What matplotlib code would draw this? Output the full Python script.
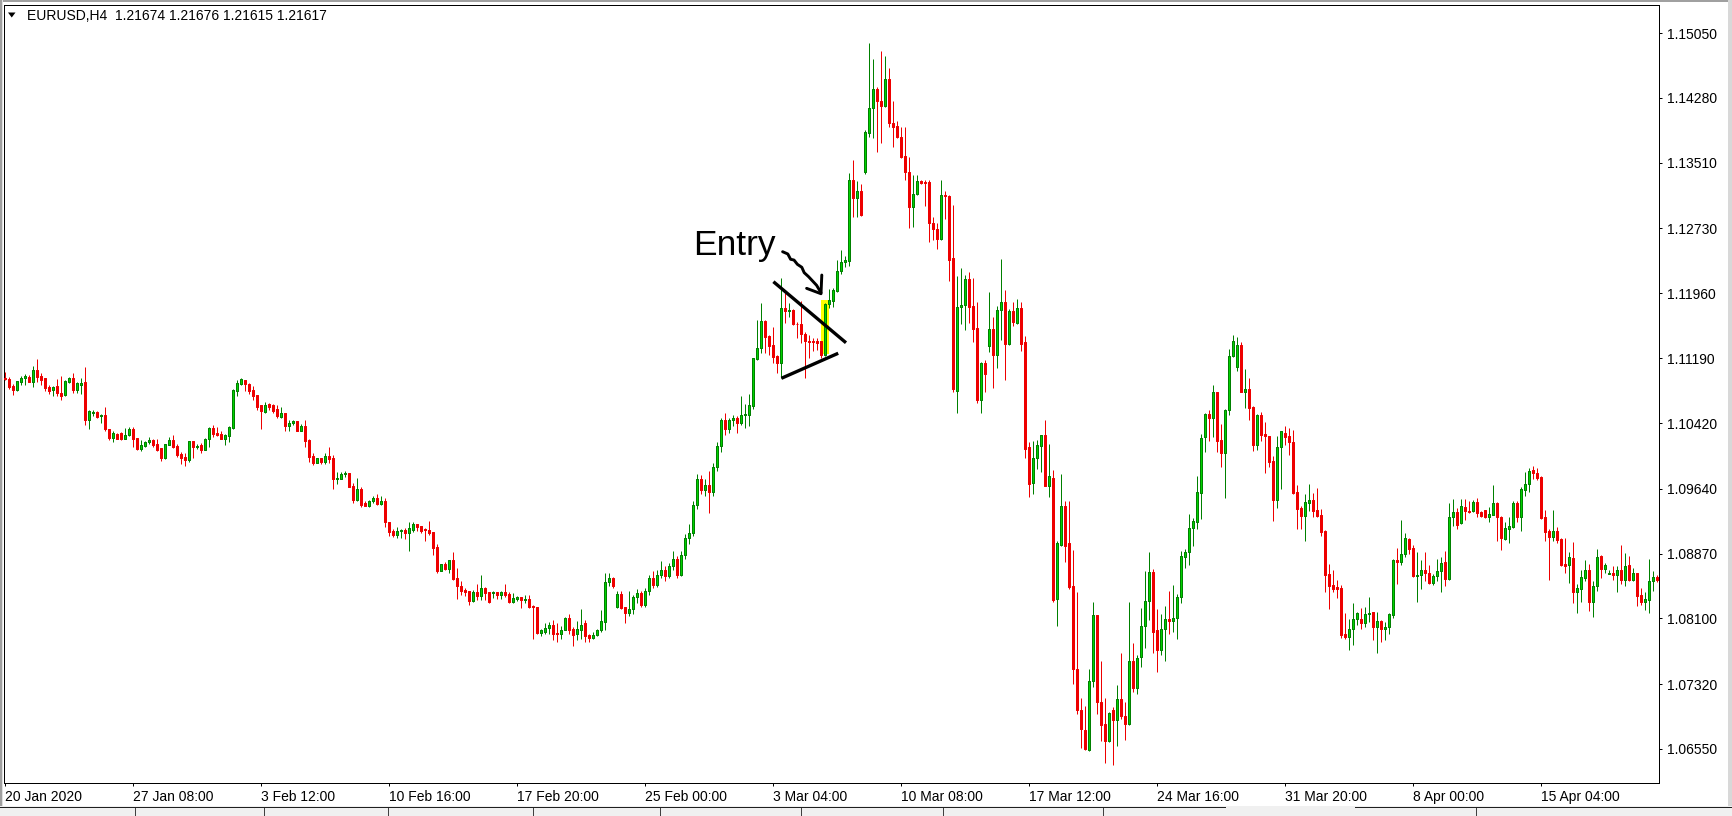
import matplotlib
matplotlib.use("Agg")
import matplotlib.pyplot as plt
from matplotlib.patches import Rectangle, Polygon
from matplotlib.collections import PatchCollection, LineCollection

# ---------------- data (EURUSD H4, one entry per bar) ----------------
opens = [
1.1096,1.1094,1.1086,1.1081,1.1091,1.1096,1.1097,1.1091,1.1105,1.1098,
1.1095,1.1085,1.1081,1.1086,1.1078,1.1075,1.1091,1.1095,1.1081,1.1087,
1.1091,1.1045,1.1054,1.1055,1.1050,1.1052,1.1035,1.1024,1.1029,1.1030,
1.1023,1.1028,1.1035,1.1024,1.1011,1.1015,1.1019,1.1022,1.1017,1.1012,
1.1000,1.1016,1.1022,1.1015,1.1005,1.1002,1.0998,1.1021,1.1013,1.1016,
1.1010,1.1023,1.1036,1.1030,1.1029,1.1023,1.1027,1.1036,1.1080,1.1088,
1.1093,1.1088,1.1081,1.1075,1.1063,1.1055,1.1064,1.1063,1.1059,1.1049,
1.1054,1.1038,1.1042,1.1044,1.1033,1.1038,1.1022,1.1003,1.0995,1.1000,
1.0996,1.1003,1.1000,1.0976,1.0976,1.0981,1.0983,1.0967,1.0951,1.0964,
1.0947,1.0943,1.0949,1.0953,1.0946,1.0949,1.0925,1.0914,1.0909,1.0914,
1.0915,1.0912,1.0915,1.0922,1.0920,1.0916,1.0915,1.0913,1.0895,1.0866,
1.0875,1.0869,1.0879,1.0858,1.0849,1.0844,1.0842,1.0831,1.0841,1.0837,
1.0846,1.0841,1.0840,1.0841,1.0838,1.0841,1.0839,1.0829,1.0833,1.0836,
1.0832,1.0833,1.0825,1.0823,1.0793,1.0794,1.0799,1.0802,1.0793,1.0791,
1.0796,1.0811,1.0797,1.0791,1.0796,1.0804,1.0790,1.0787,1.0790,1.0796,
1.0806,1.0853,1.0858,1.0823,1.0839,1.0823,1.0817,1.0821,1.0835,1.0840,
1.0826,1.0842,1.0858,1.0850,1.0862,1.0868,1.0860,1.0872,1.0880,1.0862,
1.0885,1.0905,1.0912,1.0945,1.0975,1.0962,1.0968,1.0960,1.0990,1.1015,
1.1045,1.1035,1.1045,1.1048,1.1042,1.1051,1.1052,1.1062,1.1118,1.1131,
1.1163,1.1145,1.1135,1.1121,1.1113,1.1179,1.1175,1.1176,1.1160,1.1160,
1.1148,1.1139,1.1139,1.1139,1.1139,1.1123,1.1183,1.1187,1.1199,1.1222,
1.1233,1.1234,1.1331,1.1309,1.1317,1.1340,1.1386,1.1416,1.1438,1.1424,
1.1418,1.1450,1.1398,1.1395,1.1381,1.1359,1.1340,1.1299,1.1314,1.1329,
1.1328,1.1328,1.1279,1.1272,1.1260,1.1313,1.1312,1.1238,1.1080,1.1180,
1.1182,1.1213,1.1181,1.1155,1.1069,1.1113,1.1133,1.1154,1.1123,1.1176,
1.1186,1.1136,1.1175,1.1161,1.1179,1.1138,1.1013,1.0971,1.1001,1.1015,
1.1028,1.0967,1.0977,1.0833,1.0897,1.0944,1.0899,1.0849,1.0750,1.0701,
1.0678,1.0654,1.0736,1.0814,1.0711,1.0685,1.0665,1.0701,1.0689,1.0714,
1.0694,1.0685,1.0760,1.0727,1.0764,1.0801,1.0831,1.0865,1.0796,1.0772,
1.0798,1.0809,1.0807,1.0811,1.0835,1.0883,1.0889,1.0917,1.0925,1.0959,
1.1025,1.1053,1.1048,1.1079,1.1022,1.1006,1.1058,1.1122,1.1108,1.1135,
1.1079,1.1082,1.1061,1.1016,1.1052,1.1029,1.1027,1.0997,1.0951,1.1014,
1.1030,1.1027,1.1020,1.0960,1.0941,1.0932,1.0947,1.0951,1.0939,1.0933,
1.0914,1.0863,1.0850,1.0847,1.0846,1.0791,1.0788,1.0798,1.0809,1.0809,
1.0805,1.0815,1.0818,1.0800,1.0807,1.0798,1.0800,1.0814,1.0879,1.0877,
1.0886,1.0904,1.0894,1.0860,1.0861,1.0868,1.0864,1.0852,1.0860,1.0866,
1.0877,1.0857,1.0930,1.0936,1.0923,1.0942,1.0937,1.0937,1.0948,1.0936,
1.0939,1.0931,1.0933,1.0947,1.0930,1.0904,1.0916,1.0919,1.0947,1.0931,
1.0962,1.0970,1.0986,1.0983,1.0978,1.0930,1.0914,1.0907,1.0914,1.0904,
1.0875,1.0873,1.0882,1.0841,1.0845,1.0858,1.0867,1.0829,1.0848,1.0884,
1.0869,1.0863,1.0864,1.0861,1.0868,1.0856,1.0873,1.0856,1.0864,1.0838,
1.0830,1.0832,1.0854,1.0859]

highs = [
1.1102,1.1097,1.1088,1.1092,1.1098,1.1100,1.1099,1.1110,1.1118,1.1101,
1.1095,1.1087,1.1086,1.1094,1.1098,1.1093,1.1097,1.1101,1.1091,1.1095,
1.1109,1.1058,1.1058,1.1056,1.1053,1.1061,1.1035,1.1033,1.1030,1.1031,
1.1036,1.1037,1.1037,1.1024,1.1022,1.1021,1.1025,1.1023,1.1023,1.1012,
1.1017,1.1025,1.1028,1.1017,1.1008,1.1006,1.1021,1.1021,1.1017,1.1018,
1.1024,1.1037,1.1040,1.1037,1.1033,1.1029,1.1039,1.1082,1.1093,1.1096,
1.1093,1.1089,1.1086,1.1075,1.1063,1.1067,1.1066,1.1064,1.1063,1.1061,
1.1054,1.1046,1.1046,1.1044,1.1041,1.1046,1.1023,1.1006,1.1000,1.1000,
1.1006,1.1014,1.1004,1.0984,1.0984,1.0985,1.0983,1.0971,1.0977,1.0966,
1.0949,1.0951,1.0955,1.0958,1.0955,1.0953,1.0925,1.0916,1.0918,1.0916,
1.0917,1.0925,1.0925,1.0922,1.0920,1.0917,1.0926,1.0913,1.0898,1.0875,
1.0877,1.0879,1.0889,1.0870,1.0854,1.0846,1.0842,1.0844,1.0851,1.0862,
1.0847,1.0841,1.0843,1.0841,1.0843,1.0851,1.0841,1.0840,1.0837,1.0836,
1.0838,1.0838,1.0826,1.0824,1.0797,1.0804,1.0806,1.0808,1.0804,1.0801,
1.0812,1.0815,1.0800,1.0807,1.0821,1.0808,1.0791,1.0794,1.0798,1.0820,
1.0864,1.0864,1.0859,1.0843,1.0843,1.0824,1.0843,1.0838,1.0845,1.0842,
1.0846,1.0862,1.0866,1.0868,1.0878,1.0872,1.0876,1.0890,1.0884,1.0890,
1.0910,1.0922,1.0950,1.0982,1.0980,1.0975,1.0985,1.0995,1.1020,1.1048,
1.1054,1.1048,1.1052,1.1050,1.1074,1.1064,1.1077,1.1119,1.1164,1.1184,
1.1164,1.1146,1.1156,1.1123,1.1214,1.1196,1.1184,1.1177,1.1162,1.1187,
1.1150,1.1146,1.1143,1.1143,1.1139,1.1184,1.1201,1.1202,1.1236,1.1247,
1.1240,1.1339,1.1354,1.1329,1.1326,1.1390,1.1493,1.1474,1.1441,1.1484,
1.1478,1.1464,1.1424,1.1401,1.1394,1.1394,1.1358,1.1336,1.1337,1.1331,
1.1331,1.1331,1.1287,1.1279,1.1331,1.1318,1.1313,1.1301,1.1217,1.1226,
1.1218,1.1221,1.1214,1.1186,1.1115,1.1117,1.1197,1.1168,1.1181,1.1237,
1.1200,1.1177,1.1186,1.1189,1.1186,1.1145,1.1019,1.1021,1.1022,1.1028,
1.1046,1.1017,1.0986,1.0902,1.0982,1.0949,1.0949,1.0891,1.0841,1.0716,
1.0706,1.0750,1.0830,1.0814,1.0760,1.0715,1.0699,1.0705,1.0731,1.0769,
1.0711,1.0829,1.0781,1.0766,1.0822,1.0866,1.0889,1.0869,1.0821,1.0815,
1.0825,1.0842,1.0850,1.0839,1.0890,1.0893,1.0934,1.0929,1.0979,1.1029,
1.1054,1.1058,1.1087,1.1079,1.1041,1.1059,1.1130,1.1146,1.1144,1.1138,
1.1106,1.1095,1.1062,1.1053,1.1055,1.1043,1.1027,1.1003,1.1027,1.1032,
1.1039,1.1036,1.1034,1.0968,1.0943,1.0958,1.0970,1.0959,1.0965,1.0940,
1.0915,1.0875,1.0868,1.0856,1.0850,1.0816,1.0809,1.0828,1.0818,1.0822,
1.0824,1.0836,1.0818,1.0818,1.0808,1.0806,1.0816,1.0880,1.0894,1.0927,
1.0911,1.0905,1.0897,1.0889,1.0879,1.0889,1.0873,1.0863,1.0881,1.0883,
1.0890,1.0947,1.0952,1.0941,1.0952,1.0952,1.0949,1.0951,1.0953,1.0937,
1.0939,1.0942,1.0968,1.0948,1.0932,1.0924,1.0930,1.0950,1.0949,1.0966,
1.0984,1.0988,1.0991,1.0988,1.0979,1.0939,1.0916,1.0939,1.0918,1.0906,
1.0906,1.0889,1.0901,1.0851,1.0867,1.0879,1.0875,1.0854,1.0892,1.0885,
1.0876,1.0868,1.0872,1.0872,1.0897,1.0888,1.0884,1.0870,1.0864,1.0846,
1.0841,1.0880,1.0866,1.0862]

lows = [
1.1093,1.1082,1.1075,1.1080,1.1087,1.1087,1.1091,1.1085,1.1091,1.1087,
1.1080,1.1077,1.1074,1.1074,1.1069,1.1074,1.1090,1.1078,1.1078,1.1077,
1.1040,1.1035,1.1050,1.1048,1.1042,1.1032,1.1022,1.1019,1.1023,1.1022,
1.1023,1.1026,1.1013,1.1010,1.1009,1.1014,1.1017,1.1014,1.1009,1.0997,
1.0999,1.1016,1.1012,1.1002,1.0993,1.0991,1.0996,1.1001,1.1011,1.1006,
1.1010,1.1014,1.1025,1.1027,1.1023,1.1016,1.1020,1.1035,1.1074,1.1087,
1.1080,1.1077,1.1069,1.1058,1.1035,1.1054,1.1058,1.1054,1.1048,1.1048,
1.1033,1.1032,1.1040,1.1033,1.1033,1.1014,1.0996,1.0992,1.0994,1.0993,
1.0993,1.0994,1.0964,1.0970,1.0975,1.0978,1.0966,1.0947,1.0949,1.0942,
1.0943,1.0942,1.0947,1.0945,1.0945,1.0919,1.0908,1.0907,1.0906,1.0905,
1.0904,1.0890,1.0913,1.0914,1.0912,1.0902,1.0909,1.0885,1.0864,1.0866,
1.0868,1.0864,1.0856,1.0833,1.0838,1.0837,1.0826,1.0830,1.0832,1.0832,
1.0832,1.0828,1.0834,1.0833,1.0833,1.0836,1.0828,1.0828,1.0831,1.0822,
1.0828,1.0822,1.0786,1.0792,1.0789,1.0792,1.0791,1.0784,1.0782,1.0786,
1.0796,1.0792,1.0777,1.0784,1.0786,1.0782,1.0782,1.0786,1.0789,1.0794,
1.0796,1.0848,1.0846,1.0822,1.0821,1.0805,1.0813,1.0815,1.0828,1.0823,
1.0824,1.0838,1.0846,1.0847,1.0858,1.0855,1.0858,1.0868,1.0858,1.0860,
1.0880,1.0898,1.0908,1.0940,1.0958,1.0955,1.0935,1.0955,1.0985,1.1008,
1.1028,1.1030,1.1038,1.1030,1.1040,1.1036,1.1038,1.1059,1.1117,1.1125,
1.1125,1.1123,1.1113,1.1101,1.1095,1.1161,1.1168,1.1158,1.1143,1.1137,
1.1095,1.1119,1.1127,1.1129,1.1119,1.1121,1.1178,1.1180,1.1198,1.1219,
1.1227,1.1228,1.1287,1.1287,1.1288,1.1338,1.1382,1.1380,1.1364,1.1374,
1.1417,1.1394,1.1370,1.1380,1.1357,1.1331,1.1274,1.1275,1.1313,1.1326,
1.1300,1.1257,1.1259,1.1249,1.1259,1.1284,1.1211,1.1079,1.1054,1.1159,
1.1152,1.1161,1.1138,1.1066,1.1054,1.1079,1.1126,1.1084,1.1107,1.1141,
1.1093,1.1135,1.1157,1.1159,1.1128,1.1000,1.0954,1.0958,1.0987,1.0984,
1.0967,1.0954,1.0830,1.0801,1.0896,1.0877,1.0845,1.0732,1.0696,1.0656,
1.0654,1.0653,1.0728,1.0697,1.0664,1.0638,1.0663,1.0636,1.0658,1.0691,
1.0666,1.0684,1.0723,1.0720,1.0752,1.0775,1.0808,1.0769,1.0746,1.0767,
1.0760,1.0792,1.0794,1.0785,1.0828,1.0870,1.0874,1.0896,1.0916,1.0928,
1.1007,1.1021,1.1025,1.1008,1.0990,1.0953,1.1052,1.1120,1.1104,1.1079,
1.1060,1.1045,1.1009,1.1010,1.1021,1.0983,1.0990,1.0926,1.0941,1.0964,
1.1016,1.1004,1.0958,1.0916,1.0916,1.0902,1.0938,1.0930,1.0931,1.0908,
1.0841,1.0821,1.0841,1.0834,1.0787,1.0785,1.0773,1.0778,1.0802,1.0798,
1.0800,1.0806,1.0784,1.0769,1.0782,1.0784,1.0792,1.0811,1.0851,1.0873,
1.0883,1.0887,1.0859,1.0830,1.0845,1.0854,1.0851,1.0850,1.0854,1.0841,
1.0849,1.0856,1.0920,1.0916,1.0922,1.0927,1.0935,1.0936,1.0931,1.0931,
1.0929,1.0925,1.0933,1.0902,1.0891,1.0903,1.0899,1.0917,1.0924,1.0914,
1.0955,1.0960,1.0975,1.0974,1.0928,1.0902,1.0856,1.0902,1.0900,1.0872,
1.0864,1.0852,1.0828,1.0816,1.0829,1.0854,1.0819,1.0812,1.0843,1.0858,
1.0864,1.0863,1.0856,1.0841,1.0851,1.0849,1.0855,1.0855,1.0825,1.0826,
1.0820,1.0817,1.0842,1.0853]

closes = [
1.1094,1.1085,1.1081,1.1092,1.1095,1.1098,1.1091,1.1105,1.1097,1.1093,
1.1084,1.1080,1.1085,1.1078,1.1074,1.1092,1.1095,1.1081,1.1090,1.1090,
1.1046,1.1056,1.1055,1.1049,1.1051,1.1035,1.1024,1.1030,1.1023,1.1023,
1.1028,1.1035,1.1023,1.1011,1.1016,1.1020,1.1022,1.1016,1.1010,1.1000,
1.1017,1.1022,1.1013,1.1004,1.1001,1.0998,1.1021,1.1013,1.1015,1.1010,
1.1023,1.1036,1.1029,1.1028,1.1023,1.1028,1.1037,1.1081,1.1090,1.1094,
1.1088,1.1080,1.1074,1.1061,1.1056,1.1063,1.1061,1.1056,1.1050,1.1054,
1.1038,1.1042,1.1044,1.1033,1.1038,1.1021,1.1002,1.0995,1.1000,1.0996,
1.1003,1.0999,1.0976,1.0977,1.0981,1.0983,1.0966,1.0951,1.0964,1.0945,
1.0943,1.0949,1.0953,1.0946,1.0950,1.0924,1.0913,1.0909,1.0914,1.0915,
1.0912,1.0917,1.0922,1.0919,1.0914,1.0915,1.0912,1.0894,1.0866,1.0875,
1.0869,1.0879,1.0857,1.0848,1.0843,1.0841,1.0831,1.0841,1.0837,1.0846,
1.0840,1.0830,1.0841,1.0838,1.0841,1.0838,1.0830,1.0834,1.0836,1.0832,
1.0833,1.0824,1.0823,1.0793,1.0796,1.0799,1.0802,1.0791,1.0791,1.0796,
1.0811,1.0796,1.0790,1.0797,1.0802,1.0789,1.0787,1.0790,1.0796,1.0807,
1.0853,1.0858,1.0848,1.0839,1.0822,1.0817,1.0821,1.0835,1.0840,1.0826,
1.0842,1.0858,1.0850,1.0862,1.0868,1.0860,1.0872,1.0880,1.0862,1.0885,
1.0905,1.0912,1.0945,1.0975,1.0962,1.0968,1.0960,1.0990,1.1015,1.1045,
1.1035,1.1045,1.1048,1.1042,1.1052,1.1053,1.1063,1.1119,1.1131,1.1163,
1.1144,1.1133,1.1120,1.1113,1.1178,1.1175,1.1176,1.1160,1.1159,1.1148,
1.1139,1.1138,1.1138,1.1137,1.1123,1.1183,1.1188,1.1200,1.1222,1.1233,
1.1235,1.1331,1.1309,1.1317,1.1289,1.1387,1.1416,1.1438,1.1424,1.1418,
1.1451,1.1398,1.1394,1.1381,1.1358,1.1340,1.1299,1.1314,1.1329,1.1327,
1.1327,1.1279,1.1272,1.1260,1.1313,1.1311,1.1236,1.1082,1.1180,1.1182,
1.1213,1.1180,1.1154,1.1069,1.1113,1.1100,1.1154,1.1123,1.1176,1.1186,
1.1136,1.1175,1.1162,1.1179,1.1136,1.1011,1.0970,1.1001,1.1016,1.1028,
1.0967,1.0979,1.0832,1.0900,1.0943,1.0896,1.0847,1.0750,1.0701,1.0679,
1.0655,1.0736,1.0814,1.0711,1.0684,1.0665,1.0698,1.0689,1.0714,1.0694,
1.0685,1.0760,1.0727,1.0763,1.0801,1.0831,1.0865,1.0794,1.0772,1.0798,
1.0809,1.0807,1.0811,1.0836,1.0884,1.0889,1.0917,1.0926,1.0960,1.1024,
1.1053,1.1048,1.1079,1.1021,1.1006,1.1058,1.1122,1.1139,1.1135,1.1079,
1.1082,1.1060,1.1016,1.1052,1.1028,1.1026,1.0996,1.0951,1.1013,1.1032,
1.1025,1.1019,1.0959,1.0940,1.0932,1.0948,1.0951,1.0938,1.0932,1.0913,
1.0862,1.0849,1.0845,1.0845,1.0790,1.0788,1.0798,1.0809,1.0816,1.0805,
1.0815,1.0817,1.0800,1.0807,1.0798,1.0800,1.0815,1.0879,1.0877,1.0886,
1.0905,1.0893,1.0860,1.0862,1.0868,1.0864,1.0852,1.0860,1.0866,1.0876,
1.0857,1.0930,1.0936,1.0921,1.0943,1.0937,1.0936,1.0948,1.0935,1.0932,
1.0930,1.0934,1.0947,1.0930,1.0905,1.0917,1.0920,1.0947,1.0931,1.0964,
1.0970,1.0985,1.0983,1.0977,1.0929,1.0913,1.0907,1.0914,1.0903,1.0873,
1.0872,1.0883,1.0841,1.0846,1.0859,1.0867,1.0829,1.0848,1.0883,1.0869,
1.0873,1.0864,1.0861,1.0868,1.0856,1.0872,1.0856,1.0864,1.0837,1.0830,
1.0833,1.0854,1.0859,1.0856]

price_ticks = [1.15050, 1.14280, 1.13510, 1.12730, 1.11960, 1.11190,
               1.10420, 1.09640, 1.08870, 1.08100, 1.07320, 1.06550]
date_labels = ["20 Jan 2020", "27 Jan 08:00", "3 Feb 12:00", "10 Feb 16:00",
               "17 Feb 20:00", "25 Feb 00:00", "3 Mar 04:00", "10 Mar 08:00",
               "17 Mar 12:00", "24 Mar 16:00", "31 Mar 20:00", "8 Apr 00:00",
               "15 Apr 04:00"]
bars_per_label = 32
header_text = "EURUSD,H4  1.21674 1.21676 1.21615 1.21617"

# annotations (bar index, price)
entry_box = (204.0, 206.1, 1.1124, 1.1188)
upper_trend = ([192.1, 210.25], [1.12098, 1.11373])
lower_trend = ([194.1, 208.3], [1.10951, 1.11248])
entry_label = (172.0, 1.12415)
arrow_x = [194.4, 195.7, 196.4, 197.25, 198.1, 199.2, 199.8, 200.9, 201.9, 202.9, 204.0]
arrow_y = [1.12454, 1.12427, 1.12364, 1.12355, 1.12304, 1.12269, 1.12205, 1.12157, 1.12106, 1.12055, 1.11967]
arrow_head_x = [200.4, 204.0, 204.2]
arrow_head_y = [1.12019, 1.11955, 1.12177]

# ---------------- figure ----------------
W, H = 1733, 816
fig = plt.figure(figsize=(W / 100, H / 100), dpi=100)
fig.patch.set_facecolor("white")

L_, R_, T_, B_ = 4, 1659, 5, 783
ax = fig.add_axes([L_ / W, 1 - B_ / H, (R_ - L_) / W, (B_ - T_) / H])
ax.set_facecolor("white")

n = len(closes)
ax.set_xlim(-0.25, 413.5)
ax.set_ylim(1.06146, 1.15383)

UP_FILL, UP_EDGE = "#00D200", "#008000"
DN_FILL, DN_EDGE = "#EE0000", "#EE0000"

px = 0.72  # one pixel in points
bodies, fills, edges, wicks, wcols = [], [], [], [], []
for i in range(n):
    o, h, l, c = opens[i], highs[i], lows[i], closes[i]
    up = c >= o
    lo, hi = min(o, c), max(o, c)
    bodies.append(Rectangle((i - 0.25, lo), 0.5, hi - lo))
    fills.append(UP_FILL if up else DN_FILL)
    edges.append(UP_EDGE if up else DN_EDGE)
    wicks.append([(i, min(l, lo)), (i, max(h, hi))])
    wcols.append(UP_EDGE if up else DN_EDGE)

ax.add_patch(Rectangle((entry_box[0], entry_box[2]), entry_box[1] - entry_box[0],
                       entry_box[3] - entry_box[2], facecolor="#FFFF00",
                       edgecolor="none", zorder=1))

ax.add_collection(LineCollection(wicks, colors=wcols, linewidths=px, zorder=2))
ax.add_collection(PatchCollection(bodies, facecolors=fills, edgecolors=edges,
                                  linewidths=px, zorder=3))

ax.plot(*upper_trend, color="black", lw=2.4, solid_capstyle="butt", zorder=4)
ax.plot(*lower_trend, color="black", lw=2.4, solid_capstyle="butt", zorder=4)

ax.plot(arrow_x, arrow_y, color="black", lw=2.1, zorder=4,
        solid_joinstyle="round", solid_capstyle="round")
ax.plot(arrow_head_x, arrow_head_y, color="black", lw=2.1, zorder=4,
        solid_joinstyle="round", solid_capstyle="round")
ax.text(entry_label[0], entry_label[1], "Entry", fontsize=25.5,
        family=["Liberation Sans", "DejaVu Sans"], color="black",
        ha="left", va="baseline", zorder=5)

for s in ax.spines.values():
    s.set_color("black")
    s.set_linewidth(px)

LBL_FONT = ["Liberation Sans", "DejaVu Sans"]
ax.yaxis.tick_right()
ax.set_yticks(price_ticks)
ax.set_yticklabels([f"{v:.5f}" for v in price_ticks], family=LBL_FONT)
ax.tick_params(axis="y", direction="out", length=2.2, width=px, pad=3.8,
               labelsize=10, colors="black")

xt = [bars_per_label * j for j in range(len(date_labels))]
ax.set_xticks(xt)
ax.set_xticklabels(date_labels, family=LBL_FONT)
for t in ax.get_xticklabels():
    t.set_ha("left")
ax.tick_params(axis="x", direction="out", length=2.2, width=px, pad=2.5,
               labelsize=10, colors="black")
ax.set_xlim(-0.25, 413.5)

# header: small down triangle + symbol text
fig.add_artist(Polygon([[8 / W, 1 - 12.5 / H], [15.5 / W, 1 - 12.5 / H], [11.75 / W, 1 - 17.5 / H]],
                       closed=True, transform=fig.transFigure, facecolor="black", edgecolor="none"))
fig.text(27 / W, 1 - 16.5 / H, header_text, fontsize=10, family=LBL_FONT,
         ha="left", va="center", color="black")

def frect(x0, y0, x1, y1, color):
    fig.add_artist(Rectangle((x0 / W, 1 - y1 / H), (x1 - x0) / W, (y1 - y0) / H,
                             transform=fig.transFigure, facecolor=color,
                             edgecolor="none", zorder=0))

frect(0, 0, W, 2, "#A0A0A0")
frect(0, 0, 2, H, "#A0A0A0")
frect(2, 0, 3, H, "#E0E0E0")
frect(W - 5, 0, W, H, "#D8D8D8")
frect(0, 806, W, H, "#F0F0F0")
frect(0, 807, 1226, 808, "#202020")
frect(1355, 807, W, 808, "#202020")
for sx in [135, 264, 388, 533, 660, 801, 943, 1103, 1476]:
    frect(sx, 808, sx + 1, H, "#404040")

fig.savefig("out.png", dpi=100, facecolor="white")
